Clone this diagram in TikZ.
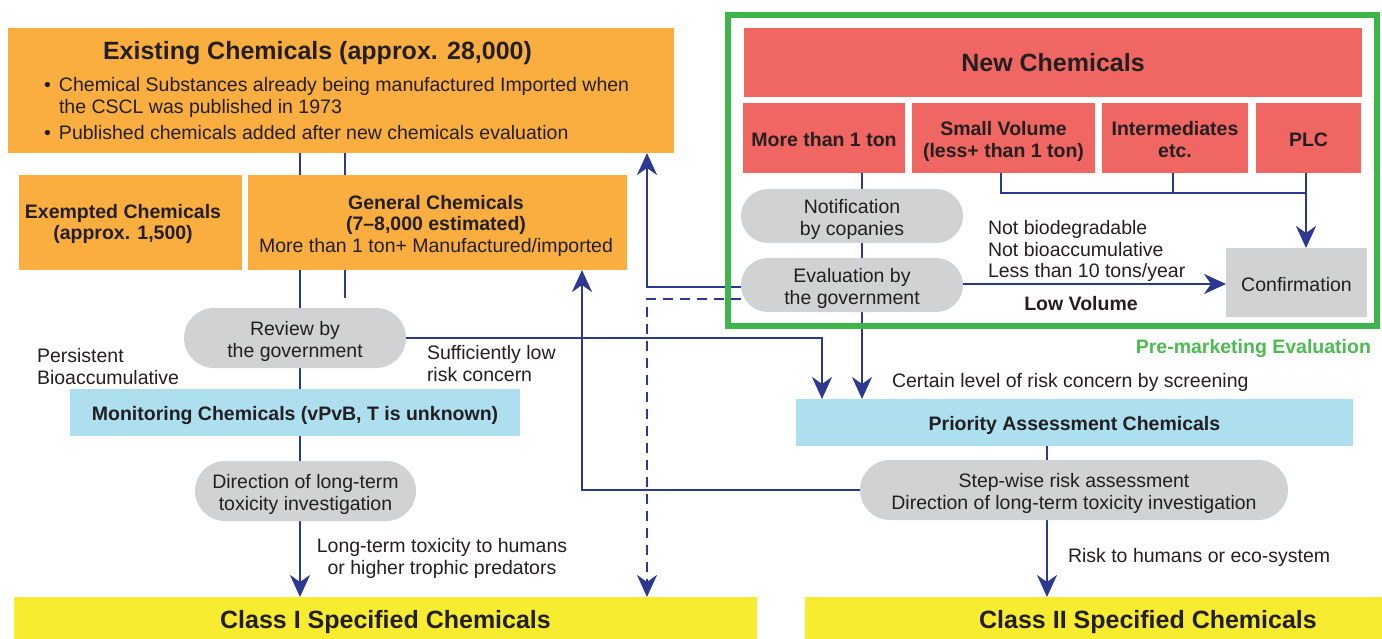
\documentclass[tikz,border=0pt]{standalone}
\usepackage{fontspec}
\setmainfont{Liberation Sans}
\usetikzlibrary{arrows.meta,backgrounds}
\definecolor{orangeC}{RGB}{250,174,64}
\definecolor{redC}{RGB}{240,102,98}
\definecolor{blueC}{RGB}{173,223,238}
\definecolor{grayC}{RGB}{209,210,212}
\definecolor{yellowC}{RGB}{247,236,47}
\definecolor{greenC}{RGB}{61,181,74}
\definecolor{greenT}{RGB}{76,187,80}
\definecolor{lineC}{RGB}{45,56,145}
\definecolor{textC}{RGB}{35,31,32}
\newcommand\fstrut{\rule{0pt}{21pt}}
\newcommand\lstrut{\rule[-4pt]{0pt}{0pt}}
\begin{document}
\begin{tikzpicture}[x=1pt,y=-1pt,
  every node/.style={inner sep=0pt,outer sep=0pt,text=textC},
  tx/.style={font=\fontsize{19.5pt}{21.5pt}\selectfont,align=center},
  bt/.style={tx,font=\fontsize{19.5pt}{21.5pt}\selectfont\bfseries},
  big/.style={font=\fontsize{25pt}{28pt}\selectfont\bfseries,align=center},
  pillA/.style={fill=grayC,rounded corners=27pt,minimum width=222pt,minimum height=54pt},
  pillB/.style={fill=grayC,rounded corners=30pt,minimum height=60pt},
  ln/.style={draw=lineC,line width=2.8pt},
  arr/.style={-{Stealth[length=22pt,width=20pt,inset=7pt]}},
  dsh/.style={dash pattern=on 10pt off 7pt}
]
\useasboundingbox (0,0) rectangle (1382,639);

% Existing chemicals
\node[fill=orangeC,minimum width=666pt,minimum height=125pt] (exist) at (341,90.5) {};
\node[big] (existT) at (317.5,50) {\rule{0pt}{24pt}Existing Chemicals (approx. 28,000)\rule[-5pt]{0pt}{0pt}};
\node[tx,anchor=west,align=left] (b1) at (44,94) {\fstrut\makebox[15pt][l]{•}Chemical Substances already being manufactured Imported when\\\hspace*{15pt}the CSCL was published in 1973\lstrut};
\node[tx,anchor=west,align=left] (b2) at (44,131) {\fstrut\makebox[15pt][l]{•}Published chemicals added after new chemicals evaluation\lstrut};

\node[fill=orangeC,minimum width=223pt,minimum height=95pt] (exempt) at (130.5,222.5) {};
\node[bt] (exemptT) at (123,220.5) {\fstrut Exempted Chemicals\\(approx. 1,500)\lstrut};

\node[fill=orangeC,minimum width=379pt,minimum height=95pt] (general) at (437.5,222.5) {};
\node[tx] (generalT) at (436,222.5) {\fstrut\textbf{General Chemicals}\\\textbf{(7–8,000 estimated)}\\More than 1 ton+ Manufactured/imported\lstrut};

% New chemicals
\node[fill=redC,minimum width=618pt,minimum height=69pt,big] (newc) at (1053,62.5) {\rule{0pt}{24pt}New Chemicals\rule[-5pt]{0pt}{0pt}};
\node[fill=redC,minimum width=162pt,minimum height=70pt,bt] (m1t) at (824,138) {\fstrut More than 1 ton\lstrut};
\node[fill=redC,minimum width=183pt,minimum height=70pt,bt] (small) at (1003.5,138) {\fstrut Small Volume\\(less+ than 1 ton)\lstrut};
\node[fill=redC,minimum width=146pt,minimum height=70pt,bt] (inter) at (1175,138) {\fstrut Intermediates\\etc.\lstrut};
\node[fill=redC,minimum width=105pt,minimum height=70pt,bt] (plc) at (1308.5,138) {\fstrut PLC\lstrut};
\node[fill=grayC,minimum width=141pt,minimum height=69pt,tx] (confirm) at (1296.5,282.5) {\fstrut Confirmation\lstrut};

\node[pillA,tx] (notif) at (852,216) {\fstrut Notification\\by copanies\lstrut};
\node[pillA,tx] (evalg) at (852,285) {\fstrut Evaluation by\\the government\lstrut};

% left column
\node[pillB,minimum width=222pt,tx] (review) at (295,338) {\fstrut Review by\\the government\lstrut};
\node[fill=blueC,minimum width=450pt,minimum height=47pt,bt] (monitor) at (295,412.5) {\fstrut Monitoring Chemicals (vPvB, T is unknown)\lstrut};
\node[pillB,minimum width=221pt,tx] (direct) at (305.5,491) {\fstrut Direction of long-term\\toxicity investigation\lstrut};

% right column
\node[fill=blueC,minimum width=557pt,minimum height=47pt,bt] (prio) at (1074.5,422.5) {\fstrut Priority Assessment Chemicals\lstrut};
\node[pillB,minimum width=428pt,tx] (step) at (1074,490) {\fstrut Step-wise risk assessment\\Direction of long-term toxicity investigation\lstrut};

% classes
\node[fill=yellowC,minimum width=743pt,minimum height=44pt,big] (class1) at (385.5,619) {\rule{0pt}{24pt}Class I Specified Chemicals\rule[-5pt]{0pt}{0pt}};
\node[fill=yellowC,minimum width=577pt,minimum height=44pt] (class2) at (1093.5,619) {};
\node[big] (class2T) at (1148,619) {\rule{0pt}{24pt}Class II Specified Chemicals\rule[-5pt]{0pt}{0pt}};

% free labels
\node[tx,anchor=west,align=left,font=\fontsize{19.5pt}{22pt}\selectfont] (persist) at (37,365) {\fstrut Persistent\\Bioaccumulative\lstrut};
\node[tx,anchor=west,align=left] (suff) at (427,362) {\fstrut Sufficiently low\\risk concern\lstrut};
\node[tx] (longt) at (442,555) {\fstrut Long-term toxicity to humans\\or higher trophic predators\lstrut};
\node[tx,anchor=west] (certain) at (892,379) {\fstrut Certain level of risk concern by screening\lstrut};
\node[tx,anchor=west] (riskT) at (1068,554) {\fstrut Risk to humans or eco-system\lstrut};
\node[tx,anchor=west,align=left] (notbio) at (988,248) {\fstrut Not biodegradable\\Not bioaccumulative\\Less than 10 tons/year\lstrut};
\node[bt] (lowv) at (1081,302) {\fstrut Low Volume\lstrut};
\node[bt,text=greenT,anchor=east] (pre) at (1371,345) {\fstrut Pre-marketing Evaluation\lstrut};

% frame of the pre-marketing evaluation
\node[draw=greenC,line width=6pt,minimum width=649pt,minimum height=311pt] (frame) at (1052.5,170.5) {};

% helper coordinates
\coordinate (vA) at (300,0);
\coordinate (vB) at (345,298);
\coordinate (vC) at (582,0);
\coordinate (vD) at (647,0);
\coordinate (vF) at (822,0);
\coordinate (vG) at (862,0);
\coordinate (vH) at (1047,0);
\coordinate (jL) at (1001,193);
\coordinate (jM) at (1173,193);
\coordinate (jR) at (1306,193);
\coordinate (yS) at (0,287);
\coordinate (yD) at (0,299);
\coordinate (yC) at (0,284);

\begin{pgfonlayer}{background}
\draw[ln,arr] (exist.south -| vA) -- (class1.north -| vA);
\draw[ln] (exist.south -| vB) -- (vB);
\draw[ln,arr] (review.east) -| (prio.north -| vF);
\draw[ln,arr] (m1t.south -| vG) -- (prio.north -| vG);
\draw[ln,arr] (evalg.west |- yS) -| (exist.south -| vD);
\draw[ln,dsh,arr] (evalg.west |- yD) -| (class1.north -| vD);
\draw[ln,arr] (step.west) -| (general.south -| vC);
\draw[ln] (prio.south -| vH) -- (step.north -| vH);
\draw[ln,arr] (step.south -| vH) -- (class2.north -| vH);
\draw[ln] (small.south -| jL) -- (jL) -- (jR);
\draw[ln] (inter.south -| jM) -- (jM);
\draw[ln,arr] (plc.south -| jR) -- (confirm.north -| jR);
\draw[ln,arr] (evalg.east |- yC) -- (confirm.west |- yC);
\end{pgfonlayer}
\end{tikzpicture}
\end{document}
